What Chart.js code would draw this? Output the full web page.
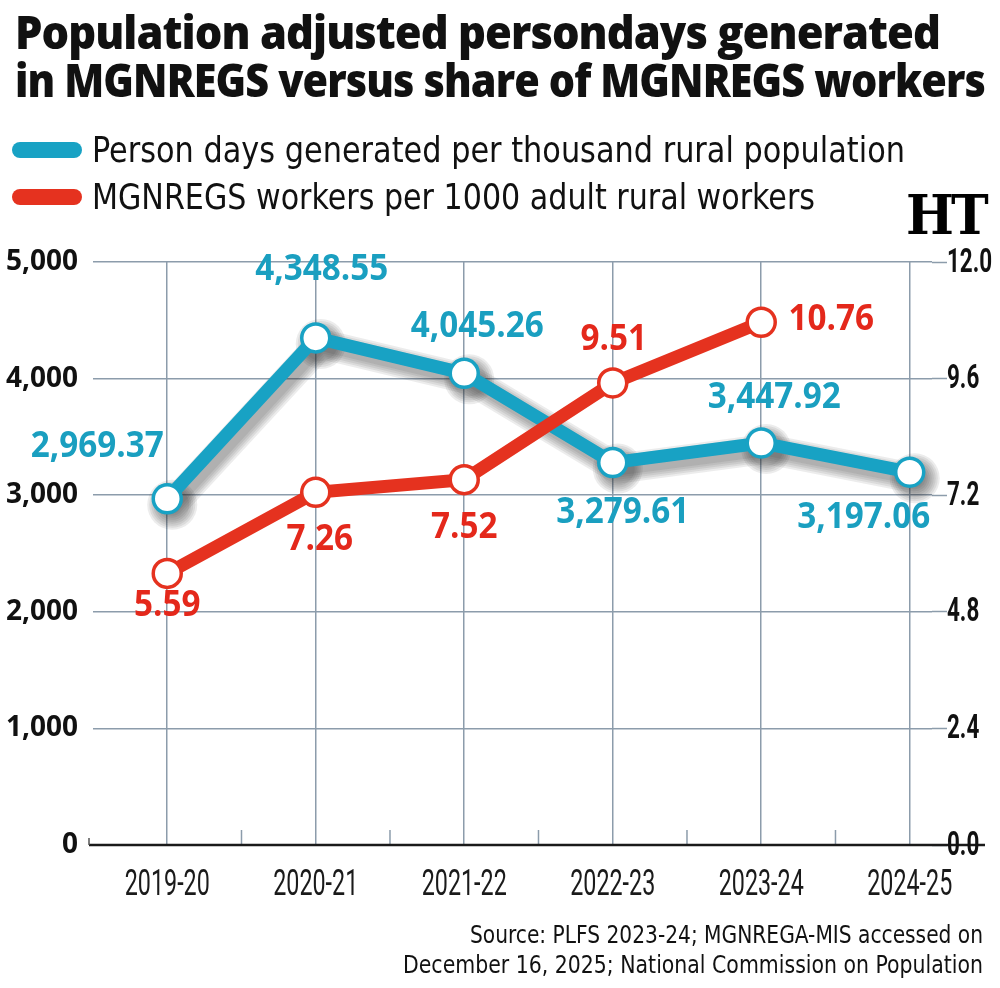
<!DOCTYPE html>
<html>
<head>
<meta charset="utf-8">
<script src="https://cdn.jsdelivr.net/npm/chart.js@4.4.1/dist/chart.umd.min.js"></script>
<style>
  html, body { margin:0; padding:0; background:#fff; }
  body { width:1000px; height:988px; position:relative; overflow:hidden; }
  #c { position:absolute; left:0; top:0; }
  .t { position:absolute; white-space:nowrap; transform-origin:0 0; line-height:1; }
  .title { font-family:'Open Sans', 'DejaVu Sans', sans-serif; font-weight:800; font-size:46px; color:#111; letter-spacing:-1px; }
  .leg { font-family:'DejaVu Sans Condensed','Roboto',sans-serif; font-size:36px; color:#111; }
  .src { font-family:'DejaVu Sans Condensed','Roboto',sans-serif; font-size:25px; color:#111; }
  .bar { position:absolute; height:16px; border-radius:8px; }
  .ht { font-family:'DejaVu Serif','Liberation Serif',serif; font-weight:bold; font-size:54px; color:#000; letter-spacing:-3px; }
</style>
</head>
<body>
<canvas id="c" width="1000" height="988"></canvas>
<div class="t title" data-w="925" style="left:15px; top:8px;">Population adjusted persondays generated</div>
<div class="t title" data-w="970" style="left:15px; top:56px;">in MGNREGS versus share of MGNREGS workers</div>
<div class="bar" style="left:12px; top:142px; width:70px; background:#18a2c4;"></div>
<div class="bar" style="left:12px; top:189px; width:70px; background:#e5321f;"></div>
<div class="t leg" data-w="813" style="left:92px; top:132px;">Person days generated per thousand rural population</div>
<div class="t leg" data-w="723" style="left:92px; top:179px;">MGNREGS workers per 1000 adult rural workers</div>
<div class="t ht" data-w="80" style="left:906px; top:188px;">HT</div>
<div class="t src" data-w="513" style="left:470px; top:922px;">Source: PLFS 2023-24; MGNREGA-MIS accessed on</div>
<div class="t src" data-w="580" style="left:403px; top:952px;">December 16, 2025; National Commission on Population</div>
<script>
// ---------- data ----------
const categories = ['2019-20', '2020-21', '2021-22', '2022-23', '2023-24', '2024-25'];
const personDays = [2969.37, 4348.55, 4045.26, 3279.61, 3447.92, 3197.06];
const workersPer1000 = [5.59, 7.26, 7.52, 9.51, 10.76, null];
const leftTicks = [0, 1000, 2000, 3000, 4000, 5000];
const rightTicks = [0, 2.4, 4.8, 7.2, 9.6, 12];
const seriesNames = ['Person days generated per thousand rural population', 'MGNREGS workers per 1000 adult rural workers'];

// ---------- styles ----------
const BLUE = '#18a2c4', RED = '#e5321f', GRID = '#8c9cab';
const blueLabelOffsets = [[-70,-52],[6,-68],[13,-46],[10,50],[13,-45],[-46,46]];
const redLabelOffsets  = [[0,33],[4,48],[0,48],[1,-43],[70,-2],[0,0]];

// fit HTML text widths
document.querySelectorAll('.t').forEach(el => {
  const w = el.getBoundingClientRect().width;
  el.style.transform = 'scaleX(' + (+el.dataset.w / w) + ')';
});

// soft drop shadow under the blue series (layered strokes = manual blur)
const shadowPlugin = {
  id: 'shadowPlugin',
  beforeDatasetsDraw(chart) {
    const c = chart.ctx, meta = chart.getDatasetMeta(0);
    const pts = meta.data.filter(p => !p.skip);
    c.save();
    c.translate(5, 6);
    c.lineJoin = 'round'; c.lineCap = 'round';
    const layers = [30, 26, 22, 18, 14];
    layers.forEach(w => {
      c.strokeStyle = 'rgba(40,40,40,0.09)'; c.fillStyle = 'rgba(40,40,40,0.09)';
      c.lineWidth = w;
      c.beginPath();
      pts.forEach((p, i) => i ? c.lineTo(p.x, p.y) : c.moveTo(p.x, p.y));
      c.stroke();
      pts.forEach(p => { c.beginPath(); c.arc(p.x, p.y, 10 + w / 2, 0, Math.PI * 2); c.fill(); });
    });
    c.restore();
  }
};

const decorPlugin = {
  id: 'decorPlugin',
  beforeDatasetsDraw(chart) {
    const c = chart.ctx, x = chart.scales.x, y = chart.scales.y;
    const y0 = y.getPixelForValue(0);
    c.save();
    c.strokeStyle = GRID; c.lineWidth = 1.5;
    for (let i = 0; i < categories.length - 1; i++) {
      const px = x.getPixelForValue(i + 0.5);
      c.beginPath(); c.moveTo(px, y0 - 15); c.lineTo(px, y0); c.stroke();
    }
    c.restore();
  },
  afterDatasetsDraw(chart) {
    const c = chart.ctx, x = chart.scales.x, y = chart.scales.y, y2 = chart.scales.y2;
    const y0 = y.getPixelForValue(0);
    c.save();
    c.strokeStyle = '#1a1a1a'; c.lineWidth = 2.5;
    c.beginPath(); c.moveTo(chart.chartArea.left - 4, y0); c.lineTo(985, y0); c.stroke();
    c.lineWidth = 1.5; c.strokeStyle = '#555';
    c.beginPath(); c.moveTo(chart.chartArea.left - 4, y0 - 7); c.lineTo(chart.chartArea.left - 4, y0); c.stroke();

    // x tick labels (condensed)
    c.fillStyle = '#1a1a1a';
    c.font = "37px 'Roboto', 'DejaVu Sans', sans-serif";
    c.textAlign = 'center'; c.textBaseline = 'middle';
    x.ticks.forEach(t => {
      c.save();
      c.translate(x.getPixelForValue(t.value), y0 + 41);
      c.scale(0.63, 1);
      c.fillText(categories[t.value], 0, 0);
      c.restore();
    });
    // right tick labels (condensed bold)
    c.fillStyle = '#111';
    c.font = "bold 34px 'Roboto', 'DejaVu Sans', sans-serif";
    c.textAlign = 'left';
    y2.ticks.forEach(t => {
      c.save();
      c.translate(y2.left + 15, y2.getPixelForValue(t.value) + 1);
      c.scale(0.66, 1);
      c.fillText(t.value.toFixed(1), 0, 0);
      c.restore();
    });

    // data labels
    c.font = "bold 35px 'Open Sans', 'DejaVu Sans', sans-serif";
    c.textAlign = 'center'; c.textBaseline = 'middle';
    const sets = [[0, personDays, blueLabelOffsets, '#1a9fc0', v => v.toLocaleString('en-US', {minimumFractionDigits:2, maximumFractionDigits:2})],
                  [1, workersPer1000, redLabelOffsets, '#e4281b', v => v.toFixed(2)]];
    sets.forEach(([di, vals, offs, col, fmt]) => {
      const meta = chart.getDatasetMeta(di);
      c.fillStyle = col;
      vals.forEach((v, i) => {
        if (v === null) return;
        const el = meta.data[i];
        c.save();
        c.translate(el.x + offs[i][0], el.y + offs[i][1]);
        c.scale(0.95, 1);
        c.fillText(fmt(v), 0, 0);
        c.restore();
      });
    });
    c.restore();
  }
};

new Chart(document.getElementById('c'), {
  type: 'line',
  data: {
    datasets: [
      { label: seriesNames[0], data: personDays.map((v, i) => ({x: i, y: v})), yAxisID: 'y',
        borderColor: BLUE, borderWidth: 13, pointRadius: 14, pointBorderWidth: 3.5,
        pointBackgroundColor: '#fff', pointBorderColor: BLUE, order: 2, tension: 0 },
      { label: seriesNames[1], data: workersPer1000.map((v, i) => ({x: i, y: v})), yAxisID: 'y2',
        borderColor: RED, borderWidth: 13, pointRadius: 14, pointBorderWidth: 3.5,
        pointBackgroundColor: '#fff', pointBorderColor: RED, order: 1, tension: 0 }
    ]
  },
  options: {
    responsive: false, animation: false, devicePixelRatio: 1,
    layout: { padding: { top: 262, bottom: 83, left: 0, right: 0 } },
    plugins: { legend: { display: false }, tooltip: { enabled: false } },
    scales: {
      x: {
        type: 'linear', min: -0.5, max: 5.15,
        afterBuildTicks: s => { s.ticks = categories.map((c, i) => ({ value: i })); },
        afterFit: s => { s.height = 60; },
        ticks: { display: false, callback: v => categories[v], autoSkip: false, maxRotation: 0 },
        grid: { color: GRID, lineWidth: 1.5, drawTicks: false },
        border: { display: false }
      },
      y: {
        position: 'left', min: 0, max: 5000,
        afterBuildTicks: s => { s.ticks = leftTicks.map(v => ({ value: v })); },
        afterFit: s => { s.width = 93; },
        ticks: { callback: v => v.toLocaleString('en-US'), padding: 15, color: '#111',
                 font: { family: "'Open Sans','DejaVu Sans',sans-serif", size: 28, weight: 'bold' } },
        grid: { color: GRID, lineWidth: 1.5, drawTicks: false },
        border: { display: false }
      },
      y2: {
        position: 'right', min: 0, max: 12,
        afterBuildTicks: s => { s.ticks = rightTicks.map(v => ({ value: v })); },
        afterFit: s => { s.width = 68; },
        ticks: { display: false, callback: v => v.toFixed(1) },
        grid: { drawOnChartArea: false, drawTicks: true, tickLength: 15, tickColor: GRID, tickWidth: 1.5 },
        border: { display: false }
      }
    }
  },
  plugins: [shadowPlugin, decorPlugin]
});
</script>
</body>
</html>
